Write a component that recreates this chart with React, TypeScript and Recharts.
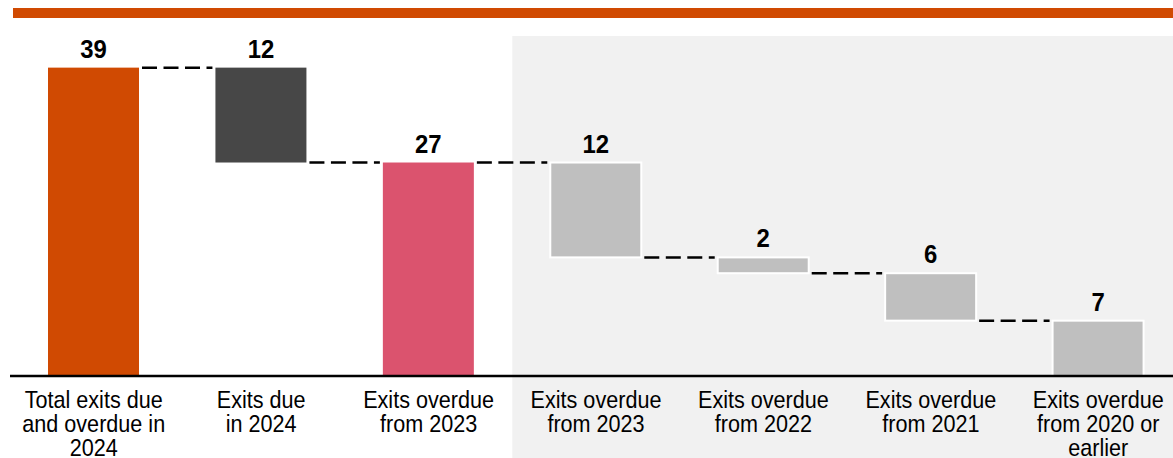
import React from "react";
import { BarChart, Bar, XAxis, YAxis, ReferenceArea } from "recharts";

// Waterfall: exits due / overdue
const ids = ["total2024", "due2024", "overdue2023a", "overdue2023b", "overdue2022", "overdue2021", "overdue2020"];
const tickLines = [
  ["Total exits due", "and overdue in", "2024"],
  ["Exits due", "in 2024"],
  ["Exits overdue", "from 2023"],
  ["Exits overdue", "from 2023"],
  ["Exits overdue", "from 2022"],
  ["Exits overdue", "from 2021"],
  ["Exits overdue", "from 2020 or", "earlier"],
];
const values = [39, 12, 27, 12, 2, 6, 7];
const kinds = ["total", "decrease", "total", "decrease", "decrease", "decrease", "decrease"];
const barColors = ["#D04A02", "#474747", "#DB536E", "#BFBFBF", "#BFBFBF", "#BFBFBF", "#BFBFBF"];

const CHART_W = 1182;
const CHART_H = 458;
const MARGIN = { top: 36, right: 0, bottom: 0, left: 10 };
const BAND = (CHART_W - MARGIN.left - MARGIN.right) / ids.length;
const FONT = "'Liberation Sans', Arial, Helvetica, sans-serif";

// running level for the floating bars
let level = 0;
const data = ids.map((id, i) => {
  const v = values[i];
  let base = 0;
  if (kinds[i] === "total") {
    level = v;
  } else {
    base = level - v;
    level = base;
  }
  return { id, value: v, base, kind: kinds[i], color: barColors[i] };
});

function WaterfallBar(props: any) {
  const { x, y, width, height, payload, index } = props;
  const isLast = index === ids.length - 1;
  const gap = BAND - width;
  const connY = payload.kind === "total" ? y : y + height;
  const outlined = index >= 3;
  return (
    <g>
      <rect
        x={x}
        y={y}
        width={width}
        height={height}
        fill={payload.color}
        stroke={outlined ? "#ffffff" : "none"}
        strokeWidth={2}
      />
      {!isLast && (
        <line
          x1={x + width + 3}
          x2={x + width + gap - 3}
          y1={connY}
          y2={connY}
          stroke="#000"
          strokeWidth={2.5}
          strokeDasharray="15 6.5"
        />
      )}
      <text
        transform={`translate(${x + width / 2},${y - 10}) scale(0.92,1)`}
        textAnchor="middle"
        fontSize={26}
        fontWeight={700}
        fontFamily={FONT}
        fill="#000"
      >
        {payload.value}
      </text>
    </g>
  );
}

function CategoryTick(props: any) {
  const { x, y, payload, index } = props;
  const i = payload?.index ?? index;
  const lines = tickLines[i] || [];
  return (
    <text
      transform={`translate(${x},${y}) scale(0.9,1)`}
      textAnchor="middle"
      fontSize={24}
      fontFamily={FONT}
      fill="#000"
    >
      {lines.map((l, k) => (
        <tspan key={k} x={0} y={32 + k * 24}>
          {l}
        </tspan>
      ))}
    </text>
  );
}

export default function App() {
  return (
    <div
      style={{
        position: "fixed",
        left: 0,
        top: 0,
        width: 1173,
        height: 458,
        overflow: "hidden",
        background: "#fff",
      }}
    >
      <div
        style={{
          position: "absolute",
          left: 13,
          top: 8,
          width: 1160,
          height: 9.5,
          background: "#D04A02",
        }}
      />
      <BarChart width={CHART_W} height={CHART_H} data={data} margin={MARGIN}>
        <ReferenceArea
          x1={ids[3]}
          x2={ids[6]}
          y1={-11}
          y2={43}
          fill="#F1F1F1"
          fillOpacity={1}
          stroke="none"
          ifOverflow="visible"
        />
        <XAxis
          dataKey="id"
          axisLine={{ stroke: "#000", strokeWidth: 2.5 }}
          tickLine={false}
          tickSize={0}
          tickMargin={0}
          interval={0}
          height={82}
          tick={<CategoryTick />}
        />
        <YAxis hide domain={[0, 43]} allowDataOverflow />
        <Bar
          dataKey={(d: any) => [d.base, d.base + d.value]}
          barSize={91}
          shape={<WaterfallBar />}
          isAnimationActive={false}
        />
      </BarChart>
    </div>
  );
}
